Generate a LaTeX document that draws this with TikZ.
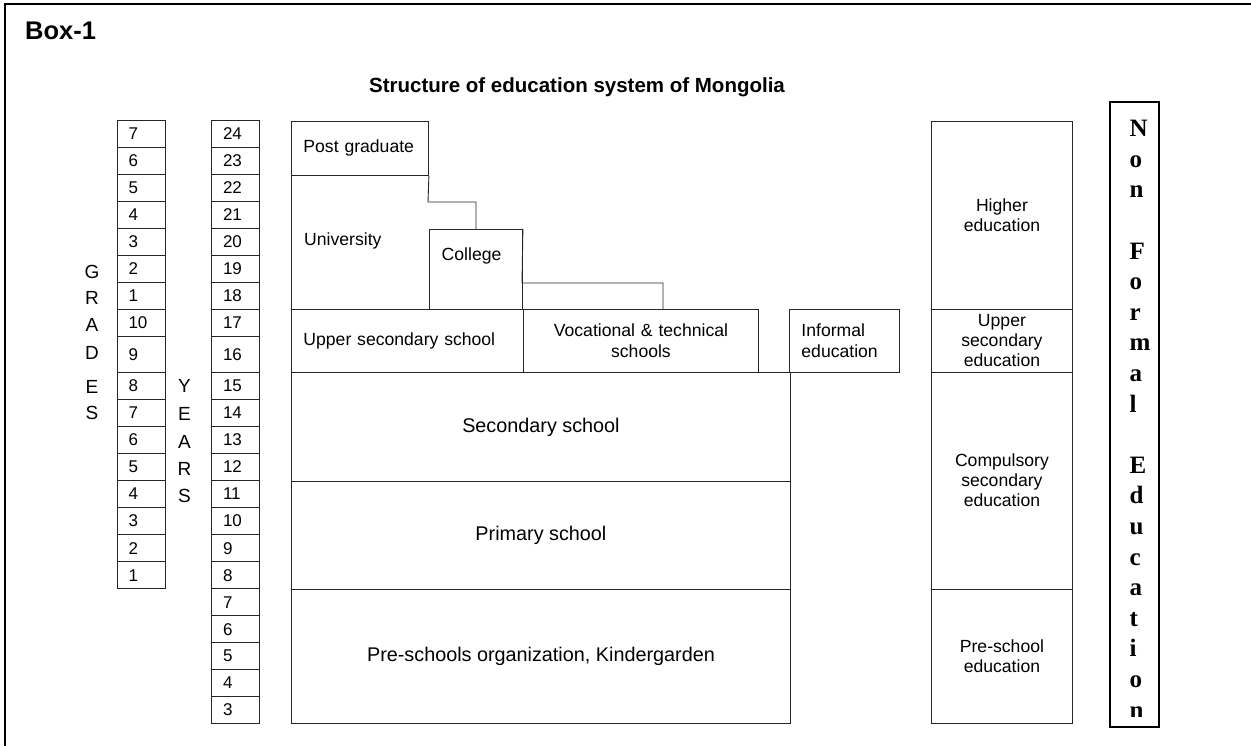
\documentclass[tikz,border=0pt]{standalone}
\usepackage{fontspec}
\setmainfont{Liberation Sans}
\newfontfamily\nfserif{Liberation Serif}
\begin{document}
\begin{tikzpicture}[x=1pt,y=-1pt,
  line/.style={draw=black!85, line width=0.9pt},
  cell/.style={line, rectangle, inner sep=0pt, inner xsep=11.5pt,
    minimum width=48pt, text width=25pt, align=left,
    font=\fontsize{17}{20}\selectfont},
  box/.style={line, rectangle, inner sep=0pt, anchor=north west,
    font=\fontsize{17.6}{21}\selectfont},
  bigbox/.style={box, align=center, font=\fontsize{19.8}{23}\selectfont},
  leftbox/.style={box, align=left, inner xsep=12pt},
  sidebox/.style={box, align=center, font=\fontsize{17.6}{20}\selectfont},
  txt/.style={inner sep=0pt, font=\fontsize{17.6}{21}\selectfont},
  vletter/.style={inner sep=0pt, font=\fontsize{19}{22}\selectfont},
  nfletter/.style={inner sep=0pt, anchor=base west,
    font=\nfserif\bfseries\fontsize{25}{30}\selectfont},
]
\useasboundingbox (0,0) rectangle (1251,746);

% outer frame (open to the right and bottom)
\draw[line width=2pt] (5,746) -- (5,4) -- (1251,4);

% headings
\node[inner sep=0pt, anchor=base west, font=\bfseries\fontsize{25.5}{30}\selectfont]
  (boxlabel) at (25,40) {Box-1};
\node[inner sep=0pt, anchor=base, font=\bfseries\fontsize{20.5}{24}\selectfont]
  (title) at (577,93) {Structure of education system of Mongolia};

% grades column
\foreach \t/\b/\g [count=\i] in {
  120/147/7, 147/174.1/6, 174.1/201.1/5, 201.1/228.2/4, 228.2/255.2/3,
  255.2/282.2/2, 282.2/309.3/1, 309.3/336.3/10, 336.3/372/9,
  372/399.1/8, 399.1/426.2/7, 426.2/453.3/6, 453.3/480.4/5,
  480.4/507.5/4, 507.5/534.6/3, 534.6/561.7/2, 561.7/588.8/1}
  \node[cell, minimum height={\b-\t}] (gr\i) at (141,{(\t+\b)/2}) {\g};

% years column
\foreach \t/\b/\yr in {
  120/147/24, 147/174.1/23, 174.1/201.1/22, 201.1/228.2/21, 228.2/255.2/20,
  255.2/282.2/19, 282.2/309.3/18, 309.3/336.3/17, 336.3/372/16,
  372/399.1/15, 399.1/426.2/14, 426.2/453.3/13, 453.3/480.4/12,
  480.4/507.5/11, 507.5/534.6/10, 534.6/561.7/9, 561.7/588.8/8,
  588.8/615.7/7, 615.7/642.6/6, 642.6/669.5/5, 669.5/696.4/4, 696.4/723.3/3}
  \node[cell, minimum height={\b-\t}] (yr\yr) at (235.5,{(\t+\b)/2}) {\yr};

% vertical captions
\foreach \ch/\y [count=\i] in {G/271.5, R/298, A/325, D/352.5, E/386.5, S/413}
  \node[vletter] (gl\i) at (92,\y) {\ch};
\foreach \ch/\y [count=\i] in {Y/386, E/414, A/441.5, R/469, S/496}
  \node[vletter] (yl\i) at (184.5,\y) {\ch};

% main structure
\node[leftbox, minimum width=137, minimum height=54, text width=113]
  (pg) at (291,121) {Post graduate};
\node[box, minimum width=93, minimum height=80] (col) at (429,229) {};
\node[leftbox, minimum width=232, minimum height=63, text width=208]
  (us) at (291,309) {Upper secondary school};
\node[box, align=center, minimum width=235, minimum height=63, text width=235]
  (voc) at (523,309) {Vocational \& technical\\schools};
\node[leftbox, minimum width=110, minimum height=63, text width=86]
  (inf) at (789,309) {Informal\\education};
\node[bigbox, minimum width=499, minimum height=109] (sec) at (291,372) {Secondary school};
\node[bigbox, minimum width=499, minimum height=108] (pri) at (291,481) {Primary school};
\node[bigbox, minimum width=499, minimum height=134] (pre) at (291,589)
  {Pre-schools organization, Kindergarden};

\node[txt, anchor=west] (uni) at (304,241) {University};
\node[txt, anchor=west] (colt) at (441.5,256) {College};

% stepped outlines of university and college
\coordinate (s1) at (428,202);
\coordinate (s2) at (476,202);
\coordinate (s3) at (522,283);
\coordinate (s4) at (663,283);
\draw[line] (pg.south west) -- (us.north west);
\draw[line] (pg.south east) -- (s1) -- (s2) -- (s2 |- col.north);
\draw[line] (col.north east) -- (s3) -- (s4) -- (s4 |- voc.north);

% level column
\node[sidebox, minimum width=141, minimum height=188] (he) at (931,121) {Higher\\education};
\node[sidebox, minimum width=141, minimum height=63] (use) at (931,309) {Upper\\secondary\\education};
\node[sidebox, minimum width=141, minimum height=216.5] (cse) at (931,372) {Compulsory\\secondary\\education};
\node[sidebox, minimum width=141, minimum height=134] (pse) at (931,588.5) {Pre-school\\education};

% non formal education strip
\node[draw=black, line width=1.8pt, rectangle, inner sep=0pt, anchor=north west,
  minimum width=49, minimum height=625] (nf) at (1109,101) {};
\begin{scope}
  \clip (1109,101) rectangle (1158,716);
  \foreach \ch/\k in {N/0,o/1,n/2,F/4,o/5,r/6,m/7,a/8,l/9,
                      E/11,d/12,u/13,c/14,a/15,t/16,i/17,o/18,n/19}
    \node[nfletter] (nf\k) at (1129.5,{136.7+30.6*\k}) {\ch};
\end{scope}
\end{tikzpicture}
\end{document}
